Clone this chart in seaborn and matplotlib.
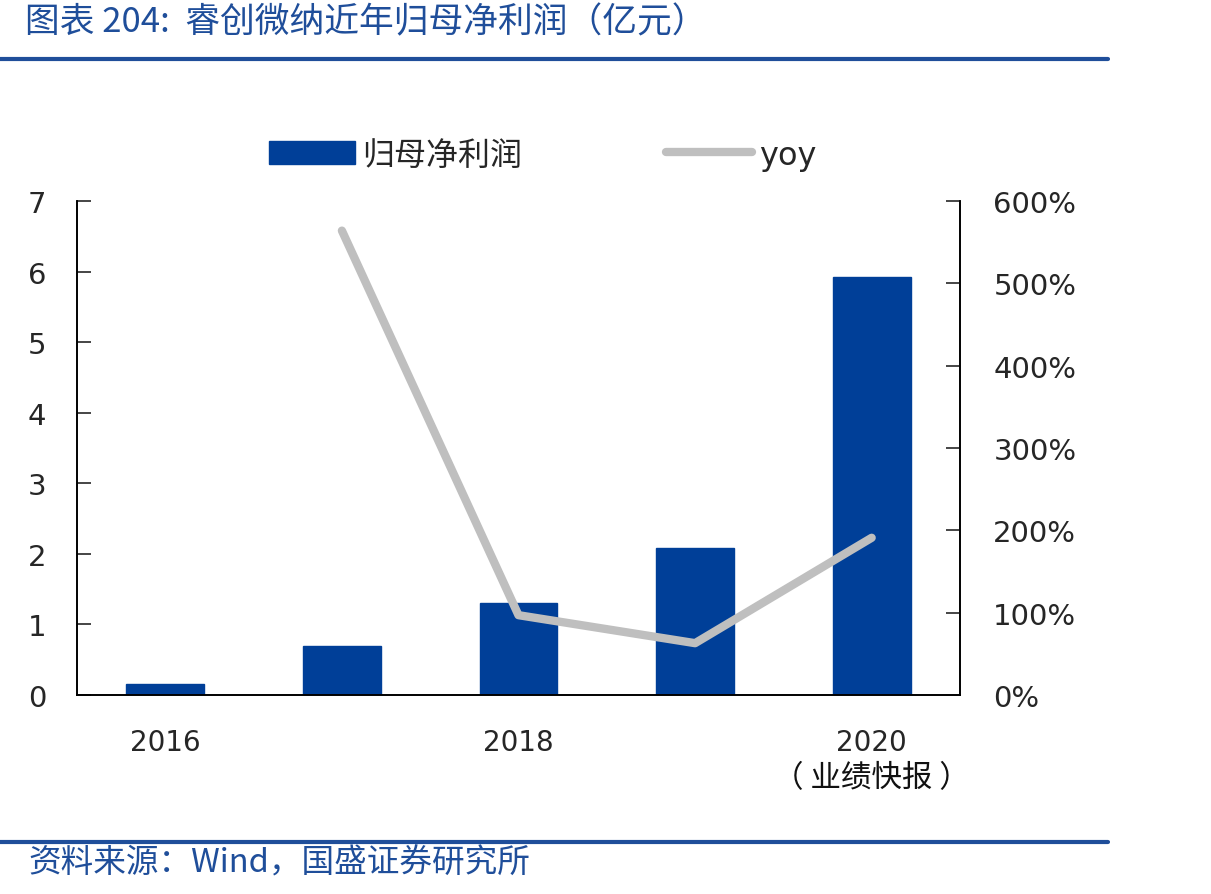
import matplotlib.pyplot as plt
import matplotlib.patches as mpatches
import matplotlib.lines as mlines
import matplotlib.transforms as mtransforms
import numpy as np
import pandas as pd
import seaborn as sns
from matplotlib.ticker import FuncFormatter

years = ["2016", "2017", "2018", "2019", "2020"]
profit = [0.15, 0.70, 1.31, 2.08, 5.92]  # 亿元
yoy = [np.nan, 5.64, 0.97, 0.63, 1.91]
tick_labels = ["2016", "", "2018", "", "2020"]
last_note = "（ 业绩快报 ）"

sns.set_style("white")
plt.rcParams["font.family"] = ["DejaVu Sans", "Noto Sans CJK SC"]

blue = "#003F98"
gray = "#BFBFBF"
title_blue = "#1F4E9A"
cjk = ["Noto Sans CJK SC", "DejaVu Sans"]
mixed = ["DejaVu Sans", "Noto Sans CJK SC"]

df = pd.DataFrame({"year": years, "profit": profit, "yoy": yoy})
df["pos"] = df.index

fig = plt.figure(figsize=(12.11, 8.95), dpi=100)
ax = fig.add_axes([0.0636, 0.2223, 0.7291, 0.552])

sns.barplot(df, x="year", y="profit", ax=ax, color=blue, width=0.44,
            saturation=1, edgecolor=blue)
ax.set_ylim(0, 7)
ax.set_xlim(-0.5, 4.5)
ax.set_yticks(range(0, 8))
ax.tick_params(axis="y", direction="in", length=10, width=1.2, labelsize=21, pad=22)
ax.set_xticks(range(len(years)))
ax.set_xticklabels(tick_labels, fontsize=20, family=mixed)
ax.tick_params(axis="x", length=0, pad=24)
ax.set_xticks([0.5, 1.5, 2.5, 3.5], minor=True)
ax.tick_params(axis="x", which="minor", direction="in", length=10, width=1.2)
ax.set_xlabel("")
ax.set_ylabel("")
trans = mtransforms.blended_transform_factory(ax.transData, ax.transAxes)
ax.text(len(years) - 1, -0.168, last_note, transform=trans, fontsize=22,
        family=cjk, ha="center", va="center", color="#111111")

ax2 = ax.twinx()
sns.lineplot(df, x="pos", y="yoy", ax=ax2, color=gray, linewidth=6)
ax2.set_ylim(0, 6)
ax2.set_yticks(range(0, 7))
ax2.yaxis.set_major_formatter(FuncFormatter(lambda v, p: f"{v * 100:.0f}%"))
ax2.tick_params(axis="y", direction="in", length=10, width=1.2, labelsize=21, pad=24)
ax2.set_ylabel("")
ax2.set_xlim(-0.5, 4.5)

for a in (ax, ax2):
    a.spines["top"].set_visible(False)
    for s in ("left", "right", "bottom"):
        a.spines[s].set_color("black")
        a.spines[s].set_linewidth(1.2)

handles = [
    mpatches.Patch(facecolor=blue, edgecolor=blue, label="归母净利润"),
    mlines.Line2D([], [], color=gray, linewidth=6, label="yoy"),
]
fig.legend(handles=handles, loc="center", bbox_to_anchor=(543 / 1211, 1 - 156 / 895),
           ncol=2, frameon=False, handlelength=2.7, handleheight=0.72,
           handletextpad=0.22, columnspacing=4.5,
           prop={"family": mixed, "size": 23})

# header / footer
fig.text(25 / 1211, 1 - 23 / 895, "图表 204:  睿创微纳近年归母净利润（亿元）",
         fontsize=25, color=title_blue, family=cjk, style="italic",
         ha="left", va="center")
fig.add_artist(mlines.Line2D([0, 1108 / 1211], [1 - 60 / 895] * 2,
                             color=title_blue, linewidth=3))
fig.add_artist(mlines.Line2D([0, 1108 / 1211], [1 - 843 / 895] * 2,
                             color=title_blue, linewidth=3))
fig.text(28 / 1211, 1 - 864 / 895, "资料来源：Wind，国盛证券研究所",
         fontsize=23.5, color=title_blue, family=cjk, style="italic",
         ha="left", va="center")

fig.savefig("out.png", dpi=100, facecolor="white")
